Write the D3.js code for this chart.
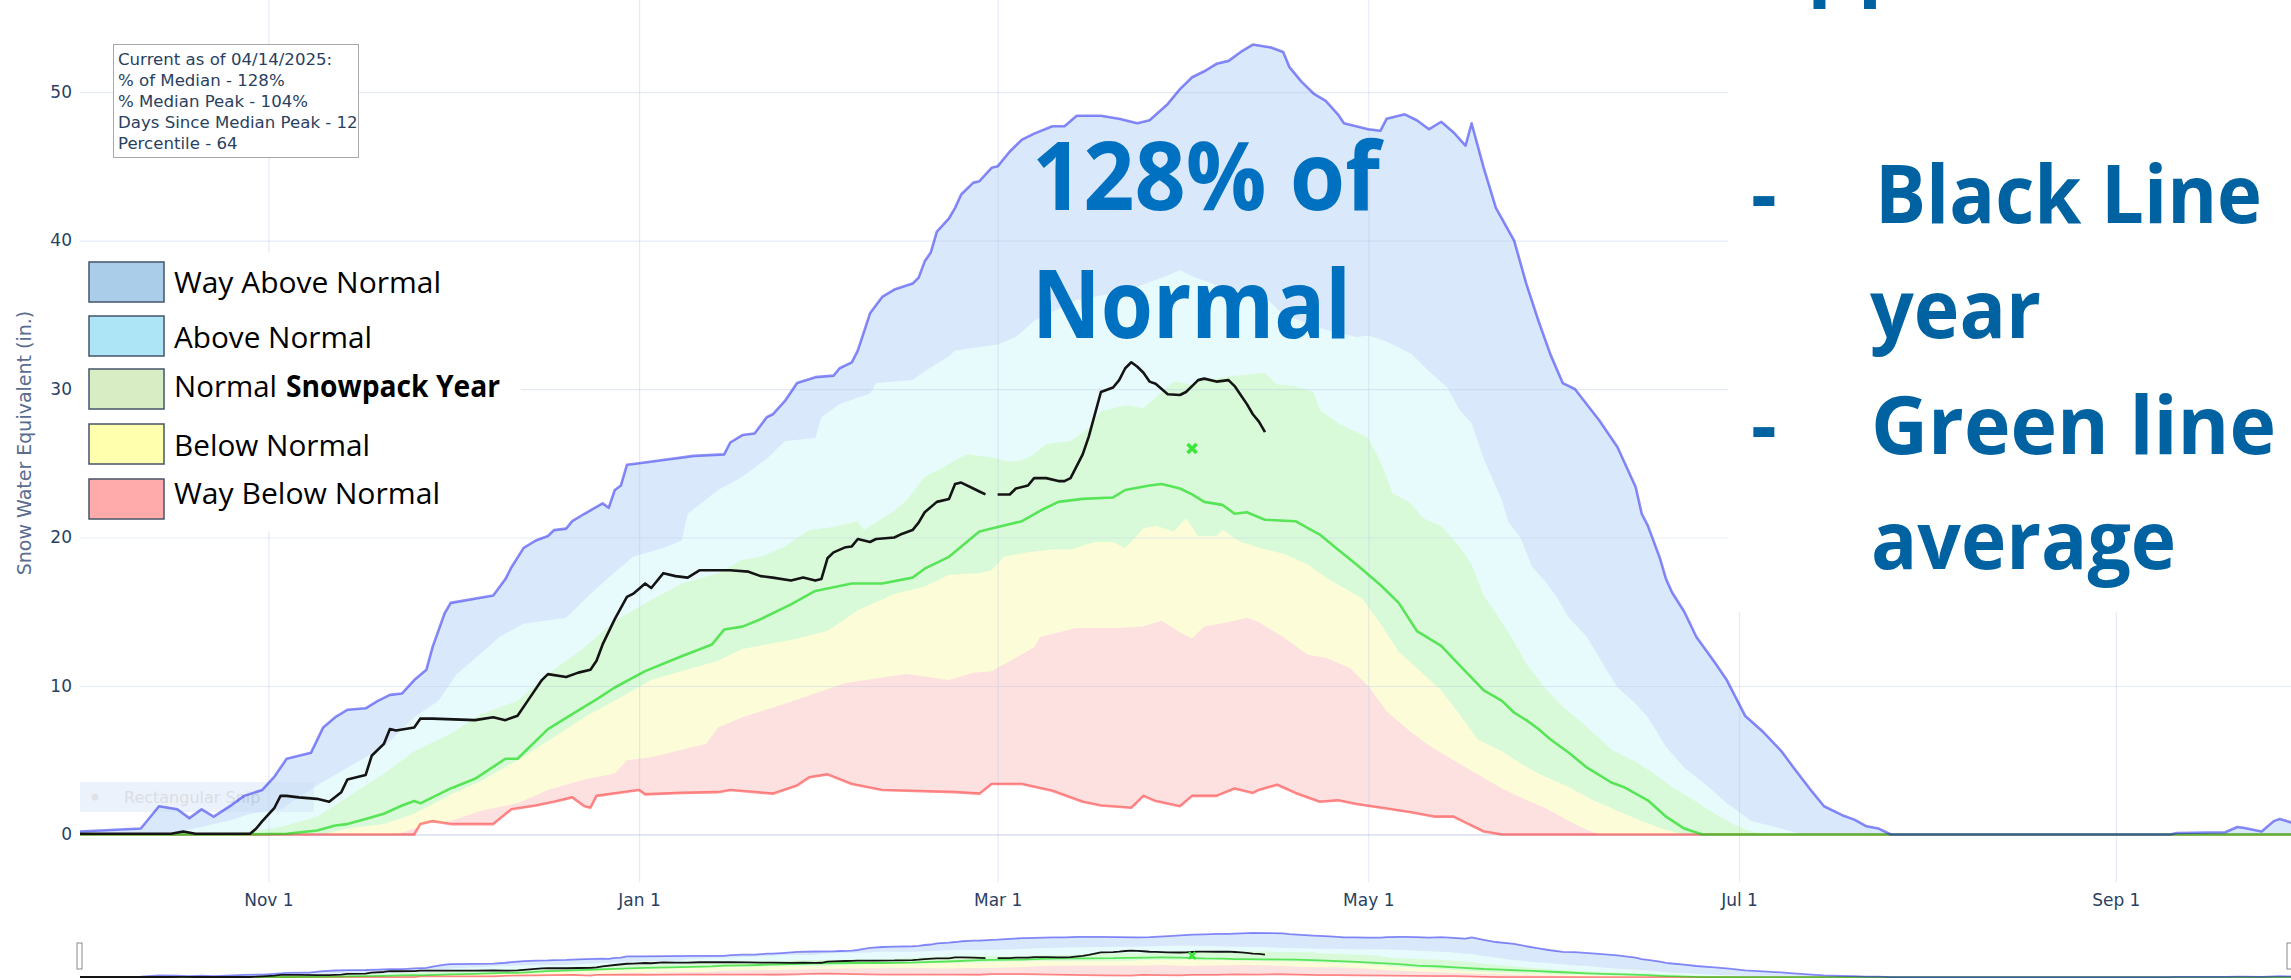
<!DOCTYPE html>
<html>
<head>
<meta charset="utf-8">
<script src="https://cdn.jsdelivr.net/npm/d3@7"></script>
<style>
  html, body { margin: 0; padding: 0; background: #fff; }
  svg { display: block; }
</style>
</head>
<body>
<svg id="chart"></svg>
<script>
// [day of water year (0 = Oct 1 2024), snow water equivalent in inches]
var maxSwe = [[0,0.2],[5,0.3],[10,0.4],[13,1.9],[16,1.7],[18,1.1],[20,1.7],[22,1.2],[25,2.0],[27,2.6],[30,3.0],[32,3.9],[34,5.1],[37,5.4],[38,5.5],[40,7.2],[42,7.9],[44,8.4],[47,8.5],[49,9.0],[51,9.4],[53,9.5],[55,10.4],[57,11.1],[58,12.6],[60,14.9],[61,15.6],[68,16.1],[70,17.2],[71,18.0],[73,19.3],[75,19.8],[77,20.1],[78,20.5],[80,20.6],[81,21.1],[83,21.6],[86,22.3],[87,22.0],[88,23.2],[89,23.5],[90,24.9],[92,25.0],[101,25.5],[106,25.6],[107,26.4],[109,26.9],[111,27.0],[113,28.1],[114,28.3],[116,29.2],[118,30.4],[121,30.8],[124,30.9],[125,31.4],[127,31.8],[128,32.6],[130,35.1],[132,36.2],[134,36.7],[137,37.1],[138,37.5],[139,38.6],[140,39.2],[141,40.6],[143,41.5],[144,42.2],[145,43.1],[147,43.9],[148,44.0],[150,44.9],[151,45.0],[153,46.0],[155,46.8],[157,47.2],[160,47.7],[162,47.7],[164,48.4],[168,48.4],[171,48.2],[174,47.9],[176,48.1],[179,49.2],[181,50.2],[183,51.0],[185,51.4],[187,51.9],[189,52.1],[191,52.7],[193,53.2],[196,53.0],[198,52.7],[199,51.7],[201,50.7],[203,49.9],[205,49.4],[207,48.5],[208,47.9],[210,47.7],[212,47.5],[214,47.4],[215,48.2],[217,48.4],[218,48.5],[220,48.1],[222,47.5],[224,48.0],[226,47.3],[228,46.4],[229,47.9],[231,44.9],[233,42.2],[236,40.0],[238,37.1],[240,34.6],[242,32.3],[244,30.4],[246,30.0],[250,27.9],[253,26.1],[256,23.4],[257,21.6],[258,20.8],[260,18.6],[261,17.2],[262,16.3],[264,15.0],[266,13.3],[269,11.6],[271,10.4],[274,8.0],[277,6.9],[280,5.6],[282,4.5],[285,2.9],[287,1.9],[290,1.3],[292,1.0],[294,0.55],[296,0.4],[298,0],[344,0],[345,0.1],[353,0.15],[355,0.5],[356,0.45],[359,0.2],[361,0.9],[362,1.05],[364,0.8]];
var p90Swe = [[0,0],[14,0],[20,0.5],[25,1.0],[28,1.4],[33,1.7],[39,3.3],[44,4.5],[50,5.9],[55,7.9],[59,9.0],[62,10.8],[66,12.2],[69,13.3],[73,14.2],[80,14.6],[84,16.2],[87,17.3],[91,18.7],[96,19.3],[99,19.8],[100,21.6],[105,23.2],[109,24.1],[113,25.3],[116,26.5],[121,26.7],[122,28.1],[125,29.0],[130,29.7],[131,30.4],[137,30.6],[139,31.2],[143,32.2],[144,32.6],[151,33.0],[154,33.5],[157,34.6],[164,36.0],[172,36.6],[178,37.5],[181,38.0],[183,37.6],[187,37.0],[189,36.4],[195,36.2],[198,35.0],[205,34.0],[210,33.5],[212,33.6],[215,33.2],[219,32.4],[222,31.2],[225,30.1],[227,28.6],[229,27.7],[231,25.3],[234,22.5],[235,21.1],[237,20.0],[239,18.0],[241,17.1],[243,16.0],[245,14.6],[248,13.3],[250,11.9],[253,9.9],[256,8.8],[258,7.9],[261,5.9],[264,4.5],[268,3.2],[271,2.1],[275,0.9],[279,0.5],[283,0.05],[285,0],[364,0]];
var p70Swe = [[0,0],[20,0],[28,0.2],[33,0.5],[39,1.2],[44,2.5],[50,4.1],[55,5.6],[61,6.8],[66,8.1],[72,9.0],[77,10.8],[83,12.6],[88,14.4],[94,15.8],[99,16.9],[105,17.6],[109,18.5],[112,18.7],[116,19.4],[120,20.5],[124,20.7],[128,21.1],[129,20.5],[134,21.8],[136,22.5],[139,24.1],[141,24.5],[144,25.2],[146,25.6],[150,25.4],[153,25.1],[155,25.2],[157,25.6],[159,26.3],[163,26.5],[166,27.4],[168,28.5],[172,28.9],[175,28.7],[178,29.8],[180,30.5],[183,30.3],[185,30.6],[190,30.9],[195,31.1],[197,30.3],[200,30.2],[203,29.8],[204,28.6],[207,27.7],[210,27.1],[212,26.7],[214,25.1],[216,23.0],[219,22.3],[221,21.3],[224,20.8],[227,19.4],[229,18.2],[231,16.1],[234,14.3],[236,13.0],[238,11.5],[239,11.0],[241,9.9],[244,8.6],[247,7.6],[250,6.5],[252,5.7],[256,4.9],[259,4.1],[262,3.2],[266,2.2],[269,1.4],[272,0.7],[275,0.2],[278,0],[364,0]];
var medianSwe = [[0,0],[25,0],[34,0.05],[39,0.27],[42,0.6],[44,0.7],[47,1.05],[50,1.4],[53,1.95],[55,2.25],[56,2.1],[61,3.1],[65,3.75],[70,5.1],[72,5.1],[77,7.1],[81,8.1],[85,9.1],[88,9.9],[93,11.0],[99,12.0],[104,12.8],[106,13.8],[109,14.0],[112,14.5],[117,15.5],[121,16.4],[127,16.9],[132,16.9],[137,17.3],[139,17.9],[143,18.7],[148,20.4],[150,20.6],[155,21.1],[158,21.8],[161,22.4],[165,22.6],[170,22.7],[172,23.2],[176,23.5],[178,23.6],[181,23.3],[183,22.9],[185,22.4],[188,22.2],[190,21.6],[192,21.7],[195,21.2],[200,21.1],[204,20.2],[207,19.2],[210,18.2],[214,16.8],[217,15.6],[220,13.7],[224,12.7],[227,11.4],[231,9.7],[234,9.0],[236,8.2],[238,7.7],[240,7.1],[242,6.4],[245,5.5],[248,4.5],[252,3.5],[254,3.2],[258,2.3],[261,1.2],[264,0.4],[267,0],[364,0]];
var p30Swe = [[0,0],[40,0],[44,0.4],[50,0.7],[55,1.4],[61,2.7],[66,3.6],[72,5.0],[77,6.3],[83,7.9],[88,9.0],[94,10.4],[99,11.0],[105,11.7],[109,12.5],[117,13.1],[123,13.7],[128,15.1],[134,16.2],[139,16.7],[143,17.5],[148,17.6],[150,17.8],[152,18.7],[156,19.0],[160,19.2],[163,19.2],[167,19.7],[170,19.7],[172,19.3],[175,20.6],[177,20.8],[180,20.4],[182,21.3],[184,20.1],[187,20.1],[188,20.5],[191,19.7],[195,19.2],[198,18.9],[202,18.2],[205,17.3],[208,16.6],[211,15.9],[214,14.2],[217,12.3],[220,11.2],[224,9.7],[227,8.1],[230,6.4],[234,5.6],[237,4.8],[240,4.1],[245,3.2],[249,2.3],[253,1.6],[257,0.9],[261,0.3],[264,0],[364,0]];
var p10Swe = [[0,0],[52,0],[55,0.4],[61,0.9],[66,1.6],[72,2.1],[77,3.0],[83,3.7],[88,4.1],[90,5.0],[94,5.2],[99,5.7],[103,6.1],[105,7.2],[109,7.9],[116,8.8],[126,10.2],[136,10.8],[143,10.4],[147,10.9],[150,11.0],[154,11.9],[157,12.6],[158,13.3],[161,13.6],[164,13.9],[168,13.9],[171,13.9],[175,14.0],[178,14.4],[181,13.6],[183,13.2],[185,14.0],[189,14.3],[192,14.6],[194,14.3],[198,13.3],[202,12.1],[205,11.9],[209,11.2],[212,10.0],[215,8.3],[219,6.9],[222,6.0],[226,5.0],[231,3.8],[234,3.1],[237,2.5],[241,1.8],[245,0.9],[248,0.3],[250,0],[364,0]];
var minSwe = [[0,0],[55,0],[56,0.7],[58,0.9],[61,0.7],[68,0.7],[71,1.7],[75,1.95],[78,2.2],[81,2.5],[83,1.9],[84,1.8],[85,2.6],[92,3.0],[93,2.7],[99,2.8],[105,2.85],[107,3.0],[114,2.75],[118,3.3],[120,3.85],[123,4.05],[127,3.4],[132,3.0],[144,2.85],[148,2.75],[150,3.4],[155,3.4],[160,2.95],[165,2.2],[168,1.95],[173,1.8],[175,2.6],[177,2.25],[181,1.9],[183,2.6],[187,2.6],[190,3.1],[193,2.8],[194,3.0],[197,3.35],[200,2.8],[204,2.2],[207,2.3],[210,2.05],[215,1.75],[219,1.5],[223,1.2],[226,1.2],[228,0.8],[231,0.2],[234,0],[364,0]];
var currentSwe = [[0,0.05],[15,0.05],[17,0.2],[19,0.05],[28,0.05],[29,0.4],[30,0.9],[32,1.8],[33,2.6],[34,2.6],[36,2.5],[39,2.4],[41,2.2],[43,2.85],[44,3.7],[47,4.0],[48,5.3],[50,6.1],[51,7.1],[52,7.0],[55,7.2],[56,7.8],[58,7.8],[65,7.7],[68,7.9],[70,7.7],[72,8.0],[74,9.2],[76,10.4],[77,10.8],[80,10.6],[82,10.9],[84,11.1],[85,11.7],[86,12.8],[88,14.5],[90,16.0],[91,16.2],[93,16.9],[94,16.6],[96,17.6],[98,17.4],[100,17.3],[102,17.8],[107,17.8],[110,17.7],[112,17.4],[114,17.3],[117,17.1],[119,17.3],[121,17.1],[122,17.2],[123,18.6],[124,19.0],[126,19.35],[127,19.4],[128,19.9],[130,19.7],[131,19.9],[134,20.0],[135,20.2],[137,20.5],[138,21.0],[139,21.7],[141,22.4],[143,22.6],[144,23.6],[145,23.7],[147,23.3],[148,23.1],[149,22.9],[150,null],[151,22.9],[153,22.9],[154,23.3],[156,23.5],[157,24.0],[159,24.0],[161,23.8],[162,23.8],[163,24.0],[165,25.6],[166,26.8],[168,29.8],[170,30.1],[171,30.6],[172,31.4],[173,31.8],[174,31.5],[175,31.1],[176,30.5],[177,30.35],[178,30.0],[179,29.65],[181,29.6],[182,29.8],[183,30.2],[184,30.6],[185,30.7],[187,30.5],[189,30.6],[190,30.2],[191,29.6],[192,29.0],[193,28.3],[194,27.8],[195,27.1]];
var medianPeak = [[183,26.0]];

var yTicks = [0,10,20,30,40,50];
var statusLines = ["Current as of 04/14/2025:","% of Median - 128%","% Median Peak - 104%","Days Since Median Peak - 12","Percentile - 64"];
var legendLabels = ["Way Above Normal","Above Normal","Normal","Below Normal","Way Below Normal"];
var headline = ["128% of","Normal"];
var notes = ["Black Line","year","Green line","average"];

var width = 2291;
var height = 980;
var svg = d3.select("#chart").attr("width", width).attr("height", height);

var start = new Date(Date.UTC(2024, 9, 1));
var end = new Date(Date.UTC(2025, 8, 30));
var day = function(d){ return d3.utcDay.offset(start, d); };

var x = d3.scaleUtc().domain([start, end]).range([80, 2292]);
var y = d3.scaleLinear().domain([-3.2, 56.2]).range([882, 0]);
var yMini = d3.scaleLinear().domain([-3.2, 56.2]).range([979.7, 930.4]);

var defs = svg.append("defs");
defs.append("clipPath").attr("id","plotClip")
    .append("rect").attr("x",80).attr("y",0).attr("width",2212).attr("height",882);
defs.append("clipPath").attr("id","miniClip")
    .append("rect").attr("x",80).attr("y",928).attr("width",2212).attr("height",52);

var bands = [
  {data: maxSwe, fill: "#d9e8fa"},
  {data: p90Swe, fill: "#e7fbfc"},
  {data: p70Swe, fill: "#d9fad9"},
  {data: p30Swe, fill: "#fcfcd9"},
  {data: p10Swe, fill: "#fde0e0"},
  {data: minSwe, fill: "#ffffff"}
];

var traces = [
  {data: minSwe, stroke: "rgba(255,0,0,0.45)"},
  {data: medianSwe, stroke: "rgba(0,215,0,0.6)"},
  {data: maxSwe, stroke: "rgba(0,0,240,0.45)"},
  {data: currentSwe, stroke: "#141414"}
];

var drawBands = function(g, yScale){
  var area = d3.area()
      .x(function(d){ return x(day(d[0])); })
      .y0(yScale(0))
      .y1(function(d){ return yScale(d[1]); });
  g.selectAll("path.band")
   .data(bands)
   .enter()
   .append("path")
   .attr("class","band")
   .attr("d", function(b){ return area(b.data); })
   .attr("fill", function(b){ return b.fill; });
};

var drawTraces = function(g, yScale, lineWidth){
  var line = d3.line()
      .defined(function(d){ return d[1] !== null; })
      .x(function(d){ return x(day(d[0])); })
      .y(function(d){ return yScale(d[1]); });
  g.selectAll("path.trace")
   .data(traces)
   .enter()
   .append("path")
   .attr("class","trace")
   .attr("d", function(t){ return line(t.data); })
   .attr("fill","none")
   .attr("stroke", function(t){ return t.stroke; })
   .attr("stroke-width", lineWidth)
   .attr("stroke-linejoin","round");
  g.selectAll("path.peak")
   .data(medianPeak)
   .enter()
   .append("path")
   .attr("class","peak")
   .attr("transform", function(d){ return "translate(" + x(day(d[0])) + "," + yScale(d[1]) + ")"; })
   .attr("d", d3.symbol().type(d3.symbolX).size(lineWidth > 2 ? 55 : 30))
   .attr("fill","none")
   .attr("stroke","#3be63b")
   .attr("stroke-width", lineWidth > 2 ? 3.5 : 2.5);
};

// main plot
var plot = svg.append("g").attr("clip-path","url(#plotClip)");
drawBands(plot, y);

var gridColor = "rgba(185,200,232,0.38)";
plot.append("g")
    .attr("transform","translate(80,0)")
    .call(d3.axisLeft(y).tickValues(yTicks).tickSize(-2212).tickFormat(""))
    .call(function(g){ g.select(".domain").remove(); })
    .selectAll("line")
    .attr("stroke", gridColor)
    .attr("stroke-width", function(d){ return d === 0 ? 2.2 : 1.2; });
plot.append("g")
    .attr("transform","translate(0,882)")
    .call(d3.axisBottom(x).ticks(d3.utcMonth.every(2)).tickSize(-882).tickFormat(""))
    .call(function(g){ g.select(".domain").remove(); })
    .selectAll("line")
    .attr("stroke", gridColor)
    .attr("stroke-width", 1.2);

// faint screen-snip ghost left on the screenshot
var snip = plot.append("g").attr("opacity", 0.35);
snip.append("rect").attr("x",80).attr("y",782).attr("width",234).attr("height",30).attr("fill","#c8dcf5");
snip.append("circle").attr("cx",95).attr("cy",797).attr("r",3.5).attr("fill","#a8aab8");
snip.append("text").attr("x",124).attr("y",803).text("Rectangular Snip")
    .style("font-family","'DejaVu Sans', sans-serif").style("font-size","16px").attr("fill","#9aa0b0");

drawTraces(plot, y, 2.6);

// axes labels
svg.append("g")
   .attr("transform","translate(80,0)")
   .call(d3.axisLeft(y).tickValues(yTicks).tickSize(0).tickPadding(8))
   .call(function(g){ g.select(".domain").remove(); })
   .selectAll("text")
   .style("font-family","'DejaVu Sans', sans-serif")
   .style("font-size","17px")
   .attr("fill","#2a3f5f");

svg.append("g")
   .attr("transform","translate(0,882)")
   .call(d3.axisBottom(x).ticks(d3.utcMonth.every(2)).tickFormat(d3.utcFormat("%b %-d")).tickSize(0).tickPadding(12))
   .call(function(g){ g.select(".domain").remove(); })
   .selectAll("text")
   .style("font-family","'DejaVu Sans', sans-serif")
   .style("font-size","17px")
   .attr("fill","#2a3f5f");

svg.append("text")
   .attr("transform","translate(31,443) rotate(-90)")
   .attr("text-anchor","middle")
   .style("font-family","'DejaVu Sans', sans-serif")
   .style("font-size","19px")
   .attr("fill","#5b6d8f")
   .text("Snow Water Equivalent (in.)");

// range slider
var mini = svg.append("g").attr("clip-path","url(#miniClip)");
drawBands(mini, yMini);
drawTraces(mini, yMini, 1.8);
svg.selectAll("rect.grabber")
   .data([x.range()[0] - 3, x.range()[1] - 5])
   .enter()
   .append("rect")
   .attr("class","grabber")
   .attr("x", function(d){ return d; })
   .attr("y",943).attr("width",5).attr("height",26)
   .attr("fill","#fff").attr("stroke","#8a8a8a").attr("stroke-width",1);

// status annotation
var statusBox = svg.append("g");
statusBox.append("rect")
      .attr("x",113.5).attr("y",44.5).attr("width",245).attr("height",113)
      .attr("fill","#fff").attr("stroke","#a8a8a8").attr("stroke-width",1);
statusBox.selectAll("text")
      .data(statusLines)
      .enter()
      .append("text")
      .attr("x",118)
      .attr("y", function(d,i){ return 65 + i * 21; })
      .style("font-family","'DejaVu Sans', sans-serif")
      .style("font-size","16.6px")
      .attr("fill","#2a3f5f")
      .text(function(d){ return d; });

// slide overlay: legend image
var legendColors = ["#aacde9","#ade5f7","#d9edc5","#ffffad","#ffabab"];
var legendTop = [262,316,369,424,479];
var legendBase = [293,348,397,456,504];
var legendLen = [267,198,103,196,266];
svg.append("rect").attr("x",78).attr("y",252).attr("width",443).attr("height",280).attr("fill","#fff");
var legendBox = svg.append("g");
legendBox.selectAll("rect")
      .data(legendLabels)
      .enter()
      .append("rect")
      .attr("x",89)
      .attr("y", function(d,i){ return legendTop[i]; })
      .attr("width",75).attr("height",40)
      .attr("fill", function(d,i){ return legendColors[i]; })
      .attr("stroke","#44546a").attr("stroke-width",1.5);
legendBox.selectAll("text")
      .data(legendLabels)
      .enter()
      .append("text")
      .attr("x",174)
      .attr("y", function(d,i){ return legendBase[i]; })
      .attr("textLength", function(d,i){ return legendLen[i]; })
      .attr("lengthAdjust","spacingAndGlyphs")
      .style("font-family","'Open Sans', sans-serif")
      .style("font-size","30px")
      .attr("fill","#000")
      .text(function(d){ return d; });
legendBox.append("text")
      .attr("x",286).attr("y",397)
      .attr("textLength",214).attr("lengthAdjust","spacingAndGlyphs")
      .style("font-family","'Open Sans', sans-serif")
      .style("font-size","30px").style("font-weight","bold")
      .attr("fill","#000")
      .text("Snowpack Year");

// slide overlay: headline
svg.selectAll("text.headline")
   .data(headline)
   .enter()
   .append("text")
   .attr("class","headline")
   .attr("x",1032)
   .attr("y", function(d,i){ return [210,338][i]; })
   .attr("textLength", function(d,i){ return [348,319][i]; })
   .attr("lengthAdjust","spacingAndGlyphs")
   .style("font-family","'Open Sans', sans-serif")
   .style("font-size","95px").style("font-weight","bold")
   .attr("fill","#0070c0")
   .text(function(d){ return d; });

// slide overlay: notes box on the right
svg.append("rect").attr("x",1728).attr("y",0).attr("width",563).attr("height",612).attr("fill","#fff");
var noteFont = function(sel){
  sel.style("font-family","'Open Sans', sans-serif")
     .style("font-size","80px").style("font-weight","bold")
     .attr("fill","#0062a1");
};
svg.append("text").attr("x",1752).attr("y",-10).text("Application").call(noteFont);
svg.selectAll("text.dash")
   .data([223,453.5])
   .enter()
   .append("text")
   .attr("class","dash")
   .attr("x",1751)
   .attr("y", function(d){ return d; })
   .text("-")
   .call(noteFont);
svg.selectAll("text.note")
   .data(notes)
   .enter()
   .append("text")
   .attr("class","note")
   .attr("x", function(d,i){ return [1875,1870,1871,1871][i]; })
   .attr("y", function(d,i){ return [223,338,453.5,569][i]; })
   .attr("textLength", function(d,i){ return [387,171,405,305][i]; })
   .attr("lengthAdjust","spacingAndGlyphs")
   .text(function(d){ return d; })
   .call(noteFont);
</script>
</body>
</html>
